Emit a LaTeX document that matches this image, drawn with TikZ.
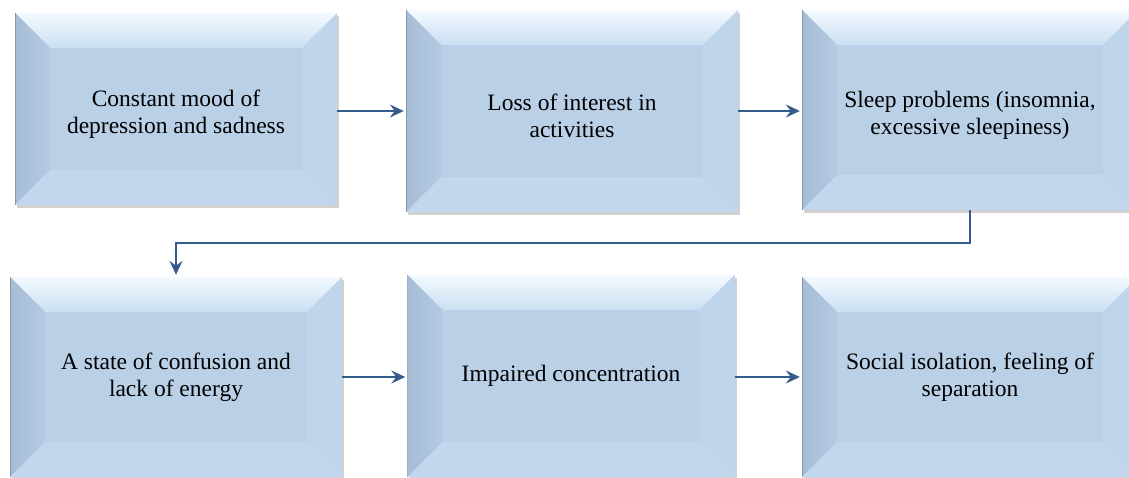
\documentclass[tikz,border=0pt]{standalone}
\usepackage{fontspec}
\setmainfont{Liberation Serif}
\usetikzlibrary{arrows.meta,shadows,calc}
\definecolor{face}{RGB}{186,208,231}
\definecolor{bevleftout}{RGB}{166,189,214}
\definecolor{bevleftin}{RGB}{180,202,226}
\definecolor{bevtop}{RGB}{202,223,242}
\definecolor{bevtoptop}{RGB}{244,250,255}
\definecolor{bevright}{RGB}{191,213,236}
\definecolor{bevbot}{RGB}{194,215,237}
\definecolor{arrowc}{RGB}{52,92,140}
\tikzset{
  txt/.style={font=\fontsize{23.5}{27}\selectfont, align=center},
  stepbox/.style={rectangle, fill=face, inner sep=0pt, txt,
    drop shadow={shadow xshift=2pt, shadow yshift=-3pt, opacity=0.3, fill=black!60},
    path picture={
      \coordinate (pnw) at (path picture bounding box.north west);
      \coordinate (pne) at (path picture bounding box.north east);
      \coordinate (psw) at (path picture bounding box.south west);
      \coordinate (pse) at (path picture bounding box.south east);
      \shade[top color=bevtoptop, bottom color=bevtop]
        (pnw) -- (pne) -- ([shift={(-35pt,-35pt)}]pne) -- ([shift={(35pt,-35pt)}]pnw) -- cycle;
      \shade[left color=bevleftout, right color=bevleftin]
        (pnw) -- ([shift={(35pt,-35pt)}]pnw) -- ([shift={(35pt,35pt)}]psw) -- (psw) -- cycle;
      \fill[bevright]
        (pne) -- ([shift={(-35pt,-35pt)}]pne) -- ([shift={(-35pt,35pt)}]pse) -- (pse) -- cycle;
      \fill[bevbot]
        (psw) -- ([shift={(35pt,35pt)}]psw) -- ([shift={(-35pt,35pt)}]pse) -- (pse) -- cycle;
      \draw[bevleftout!80!black, line width=1pt] (pnw) -- (psw);
    }},
  flow/.style={draw=arrowc, line width=1.8pt, -{Stealth[length=14pt,width=13pt,inset=5pt]}, shorten >=2pt}
}
\begin{document}
\begin{tikzpicture}[x=1pt,y=1pt]
\useasboundingbox (0,0) rectangle (1129,477);
\clip (0,0) rectangle (1129,477);
% row 1
\node[stepbox, minimum width=322pt, minimum height=192pt,
  label={[txt,yshift=-5pt]center:{Constant mood of\\depression and sadness}}] (B1) at (176,368) {};
\node[stepbox, minimum width=332pt, minimum height=202pt,
  label={[txt,yshift=-5pt]center:{Loss of interest in\\activities}}] (B2) at (572,366) {};
\node[stepbox, minimum width=336pt, minimum height=200pt,
  label={[txt,yshift=-5pt]center:{Sleep problems (insomnia,\\excessive sleepiness)}}] (B3) at (970,367) {};
% row 2
\node[stepbox, minimum width=332pt, minimum height=200pt] (B4) at (176,100) {A state of confusion and\\lack of energy};
\node[stepbox, minimum width=327pt, minimum height=202pt] (B5) at (571,101) {Impaired concentration};
\node[stepbox, minimum width=336pt, minimum height=200pt] (B6) at (970,100) {Social isolation, feeling of\\separation};
% connectors
\draw[flow] (B1.east |- B2.west) -- (B2.west);
\draw[flow] (B2.east) -- (B3.west |- B2.east);
\coordinate (elb) at (176,234);
\draw[flow] (B3.south) |- (B4.north |- elb) -- (B4.north);
\draw[flow] (B4.east) -- (B5.west |- B4.east);
\draw[flow] (B5.east |- B4.east) -- (B6.west |- B4.east);
\end{tikzpicture}
\end{document}
